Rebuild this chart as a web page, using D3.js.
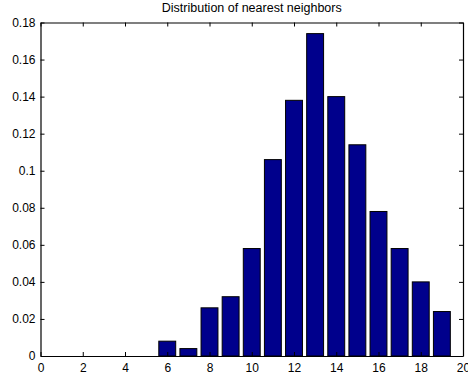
<!DOCTYPE html>
<html>
<head>
<meta charset="utf-8">
<script src="https://d3js.org/d3.v7.min.js"></script>
<style>
  body { margin: 0; background: #fff; }
  text { font-family: "Liberation Sans", Arial, sans-serif; fill: #000; }
</style>
</head>
<body>
<svg id="chart" width="468" height="378"></svg>
<script>
// number of neighbours and their share
const neighbors = [0, 1, 2, 3, 4, 5, 6, 7, 8, 9, 10, 11, 12, 13, 14, 15, 16, 17, 18, 19];
const share = [0, 0, 0, 0, 0, 0, 0.008, 0.004, 0.026, 0.032, 0.058, 0.106, 0.138, 0.174, 0.14, 0.114, 0.078, 0.058, 0.04, 0.024];
const xTicks = [0, 2, 4, 6, 8, 10, 12, 14, 16, 18, 20];
const yTicks = [0, 0.02, 0.04, 0.06, 0.08, 0.1, 0.12, 0.14, 0.16, 0.18];

const plotLeft = 40.5, plotRight = 463, plotTop = 22.5, plotBottom = 356;
const svg = d3.select("#chart");

const x = d3.scaleLinear().domain([0, 20]).range([plotLeft, plotRight]);
const y = d3.scaleLinear().domain([0, 0.18]).range([plotBottom, plotTop]);

// bars
svg.append("g")
    .selectAll("rect")
    .data(neighbors)
    .enter().append("rect")
    .attr("x", (d) => x(d - 0.4))
    .attr("width", x(0.8) - x(0))
    .attr("y", (d, i) => y(share[i]))
    .attr("height", (d, i) => y(0) - y(share[i]))
    .attr("fill", "#00008c")
    .attr("stroke", "#000")
    .attr("stroke-width", 1);

const fmt = (d) => d === 0 ? "0" : String(d);

// axes with inward ticks, box on all four sides
svg.append("g")
    .attr("transform", `translate(0,${plotBottom})`)
    .call(d3.axisBottom(x).tickValues(xTicks).tickSizeInner(-4).tickSizeOuter(0).tickPadding(7).tickFormat(fmt))
    .call(g => g.selectAll("text").attr("font-size", 12));
svg.append("g")
    .attr("transform", `translate(0,${plotTop})`)
    .call(d3.axisTop(x).tickValues(xTicks).tickSizeInner(-4).tickSizeOuter(0).tickFormat(""));
svg.append("g")
    .attr("transform", `translate(${plotLeft},0)`)
    .call(d3.axisLeft(y).tickValues(yTicks).tickSizeInner(-4).tickSizeOuter(0).tickPadding(5).tickFormat(fmt))
    .call(g => g.selectAll("text").attr("font-size", 12));
svg.append("g")
    .attr("transform", `translate(${plotRight},0)`)
    .call(d3.axisRight(y).tickValues(yTicks).tickSizeInner(-4).tickSizeOuter(0).tickFormat(""));

svg.selectAll(".domain").attr("stroke", "#000").attr("stroke-width", 1.2);
svg.selectAll(".tick line").attr("stroke", "#000");

svg.append("text")
    .attr("x", (plotLeft + plotRight) / 2)
    .attr("y", 12)
    .attr("text-anchor", "middle")
    .attr("font-size", 12.5)
    .text("Distribution of nearest neighbors");
</script>
</body>
</html>
